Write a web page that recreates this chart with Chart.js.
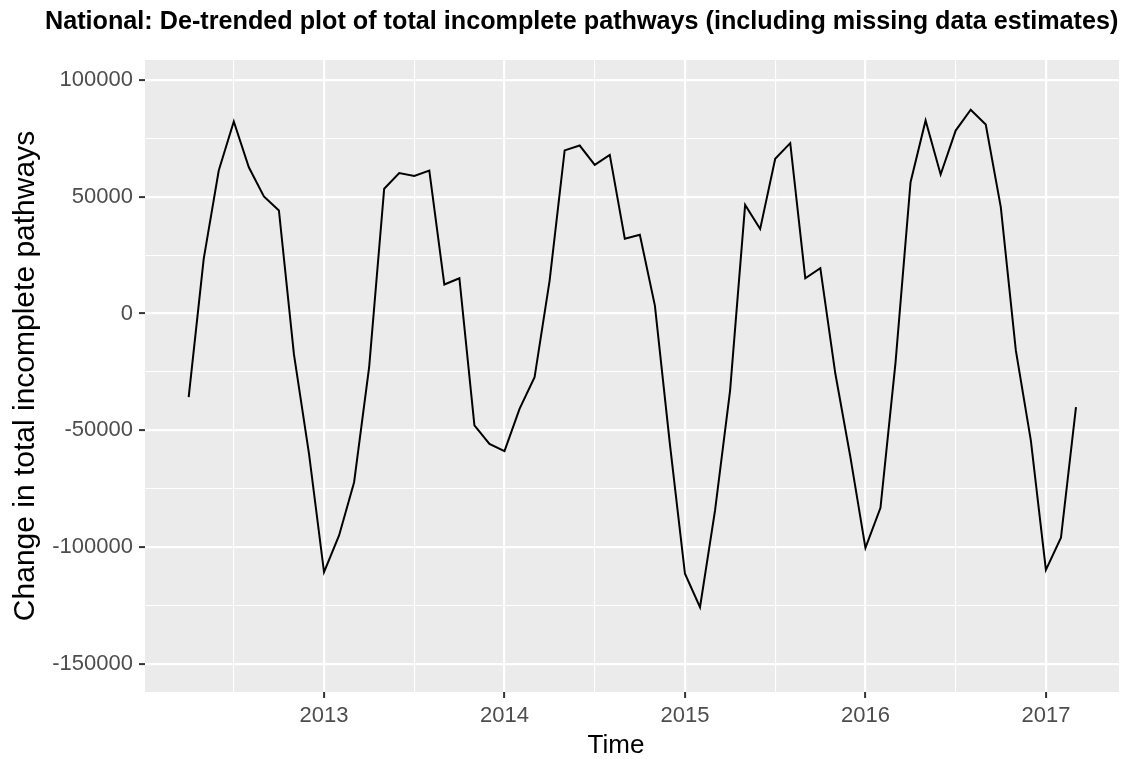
<!DOCTYPE html>
<html>
<head>
<meta charset="utf-8">
<title>De-trended incomplete pathways</title>
<script src="https://cdn.jsdelivr.net/npm/chart.js@4.4.1/dist/chart.umd.min.js"></script>
<style>
  body { margin: 0; background: #fff; }
  #chart { display: block; }
</style>
</head>
<body>
<canvas id="chart" width="1124" height="759"></canvas>
<script>
// monthly series, first value is April 2012
const startYear = 2012;
const startMonth = 4;
const pathwayChange = [
  -35800, 23400, 61200, 82200, 62600, 50100, 44100, -17500, -60000,
  -110700, -95000, -72200, -23000, 53400, 60100, 58900, 61200, 12400, 15100, -47900, -55800,
  -58900, -40800, -27300, 14100, 69800, 71900, 63600, 67900, 32000, 33700, 3400, -56000,
  -111400, -125700, -84300, -33000, 46500, 36200, 66200, 72900, 15100, 19400, -25800, -61500,
  -100300, -83200, -21000, 56200, 82600, 59500, 78300, 87200, 80900, 45500, -15800, -54400,
  -109700, -96000, -40100
];
const xTickLabels = [2013, 2014, 2015, 2016, 2017];
const yTickLabels = [-150000, -100000, -50000, 0, 50000, 100000];

const chartTitle = 'National: De-trended plot of total incomplete pathways (including missing data estimates)';
const xTitle = 'Time';
const yTitle = 'Change in total incomplete pathways';

// turn month index into decimal year
const points = pathwayChange.map((v, i) => ({
  x: startYear + (startMonth - 1 + i) / 12,
  y: v
}));

// major ticks plus a minor one half way between
const xTicks = [];
xTickLabels.forEach(y => { xTicks.push(y - 0.5); xTicks.push(y); });
const yTicks = [];
yTickLabels.forEach((v, i) => {
  yTicks.push(v);
  if (i < yTickLabels.length - 1) yTicks.push((v + yTickLabels[i + 1]) / 2);
});

const isMajorX = v => xTickLabels.includes(v);
const isMajorY = v => yTickLabels.includes(v);

const FONT = "'Liberation Sans', Arial, sans-serif";

// grey panel like ggplot
const panelBg = {
  id: 'panelBg',
  beforeDraw(chart) {
    const { ctx, chartArea: a } = chart;
    ctx.save();
    ctx.fillStyle = '#ebebeb';
    ctx.fillRect(a.left, a.top, a.right - a.left, a.bottom - a.top);
    ctx.restore();
  }
};

// titles drawn by hand so they sit where the original has them
const titles = {
  id: 'titles',
  afterDraw(chart) {
    const { ctx, chartArea: a } = chart;
    ctx.save();
    ctx.fillStyle = '#000';
    ctx.font = 'bold 25.2px ' + FONT;
    ctx.textAlign = 'left';
    ctx.textBaseline = 'alphabetic';
    ctx.fillText(chartTitle, 45, 29);

    ctx.font = '26px ' + FONT;
    ctx.textAlign = 'center';
    ctx.fillText(xTitle, 616, 753);

    ctx.font = '30px ' + FONT;
    ctx.translate(34, (a.top + a.bottom) / 2);
    ctx.rotate(-Math.PI / 2);
    ctx.fillText(yTitle, 0, 0);
    ctx.restore();
  }
};

new Chart(document.getElementById('chart'), {
  type: 'line',
  data: {
    datasets: [{
      data: points,
      borderColor: '#000',
      borderWidth: 2,
      pointRadius: 0,
      tension: 0,
      fill: false
    }]
  },
  options: {
    responsive: false,
    animation: false,
    devicePixelRatio: 1,
    layout: { padding: { top: 60, right: 5, left: 0, bottom: 0 } },
    plugins: {
      legend: { display: false },
      tooltip: { enabled: false },
      title: { display: false }
    },
    scales: {
      x: {
        type: 'linear',
        min: 2012.008,
        max: 2017.405,
        afterBuildTicks: s => { s.ticks = xTicks.map(v => ({ value: v })); },
        afterFit: s => { s.height = 67; },
        border: { display: false },
        grid: {
          color: '#fff',
          lineWidth: c => isMajorX(c.tick.value) ? 2.2 : 1.1,
          tickColor: c => isMajorX(c.tick.value) ? '#333' : 'rgba(0,0,0,0)',
          tickWidth: 2,
          tickLength: 6
        },
        ticks: {
          autoSkip: false,
          maxRotation: 0,
          padding: 5,
          color: '#4d4d4d',
          font: { family: FONT, size: 22 },
          callback: v => isMajorX(v) ? String(v) : ''
        }
      },
      y: {
        min: -162000,
        max: 108500,
        afterBuildTicks: s => { s.ticks = yTicks.map(v => ({ value: v })); },
        afterFit: s => { s.width = 145; },
        border: { display: false },
        grid: {
          color: '#fff',
          lineWidth: c => isMajorY(c.tick.value) ? 2.2 : 1.1,
          tickColor: c => isMajorY(c.tick.value) ? '#333' : 'rgba(0,0,0,0)',
          tickWidth: 2,
          tickLength: 6
        },
        ticks: {
          autoSkip: false,
          padding: 6,
          color: '#4d4d4d',
          font: { family: FONT, size: 22 },
          callback: v => isMajorY(v) ? String(v) : ''
        }
      }
    }
  },
  plugins: [panelBg, titles]
});
</script>
</body>
</html>
